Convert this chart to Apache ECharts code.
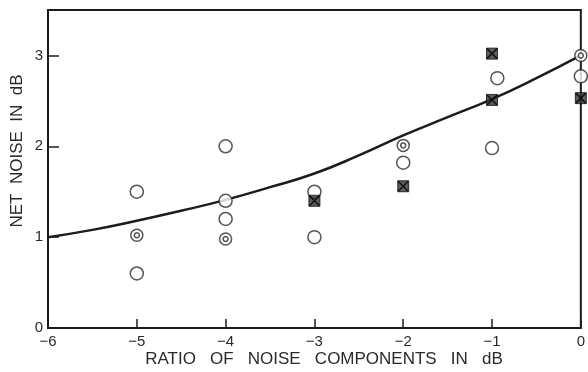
<!DOCTYPE html>
<html>
<head>
<meta charset="utf-8">
<script src="https://cdn.jsdelivr.net/npm/echarts@6/dist/echarts.min.js"></script>
<style>
  html, body { margin: 0; padding: 0; background: #fff; }
  #chart { width: 588px; height: 372px; }
</style>
</head>
<body>
<div id="chart"></div>
<script>
// Theoretical net-noise curve (dB) against ratio of the two noise components (dB)
const curveX = [-6, -5.5, -5, -4.5, -4, -3.5, -3, -2.5, -2, -1.5, -1, -0.5, 0];
const curveY = [1.0, 1.08, 1.18, 1.29, 1.41, 1.55, 1.70, 1.90, 2.12, 2.32, 2.52, 2.75, 3.0];

// Measured points, grouped by marker type
const openX = [-5, -5, -4, -4, -4, -3, -3, -2, -0.94, -1, 0];
const openY = [1.5, 0.6, 2.0, 1.4, 1.2, 1.5, 1.0, 1.82, 2.75, 1.98, 2.77];

const ringX = [-5, -4, -2, 0];
const ringY = [1.02, 0.98, 2.01, 3.0];

const squareX = [-3, -2, -1, -1, 0];
const squareY = [1.4, 1.56, 3.02, 2.51, 2.53];

// Axis ticks
const xTicks = [-6, -5, -4, -3, -2, -1, 0];
const yTicks = [0, 1, 2, 3];

const pairs = (xs, ys) => xs.map((x, i) => [x, ys[i]]);
const INK = '#1c1c1c';
const FONT = 'Liberation Sans, Arial, sans-serif';

const chart = echarts.init(document.getElementById('chart'), null, { renderer: 'canvas' });

chart.setOption({
  backgroundColor: '#ffffff',
  animation: false,
  grid: {
    left: 48, right: 3, top: 10, bottom: 44,
    show: true, borderColor: INK, borderWidth: 2, backgroundColor: 'transparent'
  },
  xAxis: {
    type: 'value',
    min: xTicks[0], max: xTicks[xTicks.length - 1], interval: 1,
    axisLine: { onZero: false, lineStyle: { color: INK, width: 2 } },
    axisTick: { inside: true, length: 9, lineStyle: { color: INK, width: 1.5 } },
    splitLine: { show: false },
    axisLabel: {
      color: '#2a2a2a', fontFamily: FONT, fontSize: 15, margin: 6,
      formatter: v => (v < 0 ? '\u2212' + Math.abs(v) : String(v))
    }
  },
  yAxis: {
    type: 'value',
    min: 0, max: 3.5, interval: 1,
    axisLine: { onZero: false, lineStyle: { color: INK, width: 2 } },
    axisTick: { inside: true, length: 11, lineStyle: { color: INK, width: 1.5 } },
    splitLine: { show: false },
    axisLabel: {
      color: '#2a2a2a', fontFamily: FONT, fontSize: 15, margin: 5,
      showMaxLabel: false,
      formatter: v => (yTicks.indexOf(v) >= 0 ? String(v) : '')
    }
  },
  graphic: [
    {
      type: 'text', x: 324, y: 359,
      style: {
        text: 'RATIO   OF   NOISE   COMPONENTS   IN   dB',
        fill: '#2a2a2a', font: '17px ' + FONT,
        align: 'center', verticalAlign: 'middle'
      }
    },
    {
      type: 'text', x: 17, y: 151, rotation: Math.PI / 2,
      style: {
        text: 'NET  NOISE  IN  dB',
        fill: '#2a2a2a', font: '17px ' + FONT,
        align: 'center', verticalAlign: 'middle'
      }
    }
  ],
  series: [
    {
      type: 'line', data: pairs(curveX, curveY), smooth: true, showSymbol: false,
      lineStyle: { color: INK, width: 2.5 }, z: 2
    },
    {
      type: 'scatter', data: pairs(openX, openY), symbol: 'circle', symbolSize: 13, clip: false,
      itemStyle: { color: '#ffffff', borderColor: '#2b2b2b', borderWidth: 1.5 }, z: 3
    },
    {
      type: 'scatter', data: pairs(ringX, ringY), symbol: 'circle', symbolSize: 12, clip: false,
      itemStyle: { color: '#ffffff', borderColor: '#2b2b2b', borderWidth: 1.5 }, z: 3
    },
    {
      type: 'scatter', data: pairs(ringX, ringY), symbol: 'circle', symbolSize: 5, clip: false,
      itemStyle: { color: '#ffffff', borderColor: '#2b2b2b', borderWidth: 1.5 }, z: 4
    },
    {
      type: 'scatter', data: pairs(squareX, squareY), symbol: 'rect', symbolSize: 11, clip: false,
      itemStyle: { color: '#353535', borderColor: '#111111', borderWidth: 1 }, z: 5
    },
    {
      type: 'scatter', data: pairs(squareX, squareY),
      symbol: 'path://M0,0L10,10M10,0L0,10', symbolSize: 10, clip: false,
      itemStyle: { color: 'none', borderColor: '#000000', borderWidth: 1.5 }, z: 6
    }
  ]
});
</script>
</body>
</html>
